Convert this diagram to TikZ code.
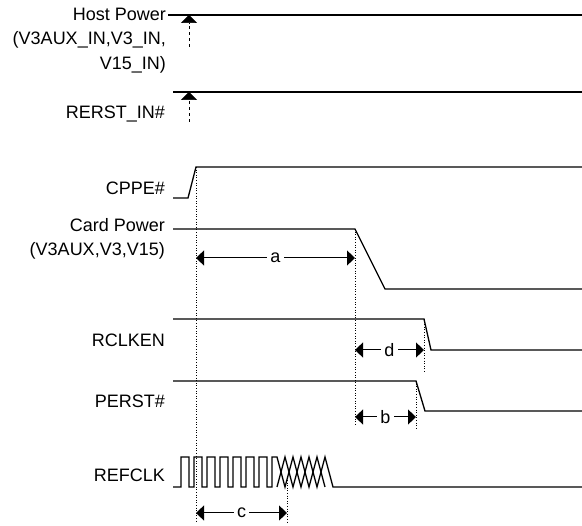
\documentclass[tikz,border=0pt]{standalone}
\usepackage{fontspec}
\setmainfont{Liberation Sans}
\usetikzlibrary{arrows.meta,positioning}

\begin{document}
\begin{tikzpicture}[
    x=1pt, y=-1pt,
    font=\fontsize{18}{24.5}\selectfont,
    mysig/.style={line width=1.3pt, line join=miter},
    mymark/.style={dotted, line width=0.6pt},
    mydim/.style={{Triangle[length=8pt,width=15pt]}-{Triangle[length=8pt,width=15pt]}, line width=1pt},
    mytrig/.style={dash pattern=on 3pt off 3pt, line width=0.7pt, -{Triangle[length=8pt,width=16pt]}},
    mylabel/.style={anchor=east, align=right, inner sep=0pt},
    dimlabel/.style={fill=white, inner sep=3pt}
]
\useasboundingbox (0,0) rectangle (582,526);

% signal names
\node[mylabel] (host) at (166,40.5) {Host Power\\(V3AUX\_IN,V3\_IN,\\V15\_IN)};
\node[mylabel] (rerst) at (165,114) {RERST\_IN\#};
\node[mylabel] (cppe) at (165,188) {CPPE\#};
\node[mylabel] (card) at (165,239) {Card Power\\(V3AUX,V3,V15)};
\node[mylabel] (rclken) at (165,340) {RCLKEN};
\node[mylabel] (perst) at (165,401) {PERST\#};
\node[mylabel] (refclk) at (165,475) {REFCLK};

% waveforms
\draw[mysig] (168,15) -- (582,15);
\draw[mysig] (173,92) -- (582,92);
\draw[mysig] (173,198) -- (188,198) -- (196,167) -- (582,167);
\draw[mysig] (173,229) -- (355,229) -- (385,289) -- (582,289);
\draw[mysig] (173,319) -- (424,319) -- (431,350) -- (582,350);
\draw[mysig] (173,381) -- (416,381) -- (425,411) -- (582,411);
\draw[mysig] (173,487)
    foreach \i in {0,...,6} { -- ({181+13*\i},487) -- ++(0,-30) -- ++(8,0) -- ++(0,30) }
    -- (272,487) -- (272,457) -- (277,457)
    foreach \j in {0,...,2} { -- ({285+16*\j},487) -- ({293+16*\j},457) }
    -- (333,487) -- (582,487);
\draw[mysig] (277,487)
    foreach \j in {0,...,2} { -- ({285+16*\j},457) -- ({293+16*\j},487) };

% trigger marks
\coordinate (hostT) at (189,15);
\coordinate (hostB) at (189,47);
\coordinate (rerstT) at (189,92);
\coordinate (rerstB) at (189,122);
\draw[mytrig] (hostB) -- (hostT);
\draw[mytrig] (rerstB) -- (rerstT);

% reference lines
\draw[mymark] (196,167) -- (196,523);
\draw[mymark] (355,229) -- (355,425);
\draw[mymark] (424,319) -- (424,372);
\draw[mymark] (416,381) -- (416,430);
\draw[mymark] (287,480) -- (287,523);

% timing intervals
\coordinate (aL) at (196,258);
\coordinate (aR) at (355,258);
\coordinate (dL) at (355,350);
\coordinate (dR) at (424,350);
\coordinate (bL) at (355,417);
\coordinate (bR) at (416,417);
\coordinate (cL) at (196,513);
\coordinate (cR) at (287,513);
\draw[mydim] (aL) -- node[dimlabel] (lbla) {a} (aR);
\draw[mydim] (dL) -- node[dimlabel] (lbld) {d} (dR);
\draw[mydim] (bL) -- node[dimlabel] (lblb) {b} (bR);
\draw[mydim] (cL) -- node[dimlabel] (lblc) {c} (cR);
\end{tikzpicture}
\end{document}
